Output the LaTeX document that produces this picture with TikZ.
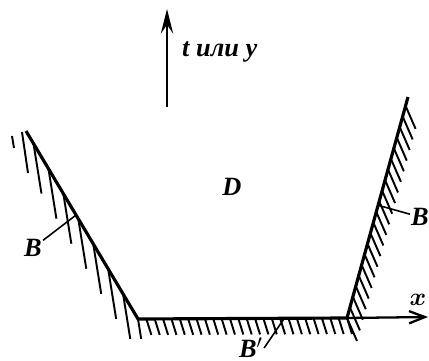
\documentclass[tikz,border=0pt]{standalone}
\usepackage{fontspec}
\setmainfont{Liberation Serif}
\usepackage{tikz}
\usetikzlibrary{arrows.meta, calc}
\usepackage{amsmath}

\begin{document}
\begin{tikzpicture}[
    x=0.02cm, y=-0.02cm,
    wall/.style={line width=1.8pt, line join=miter},
    hatch/.style={line width=1.1pt},
    yarr/.style={line width=1.3pt, -{Stealth[length=14pt, width=7pt, inset=5pt]}},
    xarr/.style={line width=1.3pt, -{Straight Barb[length=9pt, width=7pt]}},
    lbl/.style={font=\fontsize{15}{17}\selectfont\bfseries\itshape, inner sep=0.5pt},
    leader/.style={line width=0.9pt},
]
    \useasboundingbox (0,0) rectangle (429,361);
    \coordinate (ltop) at (26,131);
    \coordinate (lbot) at (138,319);
    \coordinate (rbot) at (347,318);
    \coordinate (rtop) at (408,97);
    \coordinate (xend) at (428,317);
    \coordinate (ybot) at (167,107);
    \coordinate (ytop) at (167,9);
    \coordinate (lmark) at ($(lbot)!0.553!(ltop)$);
    \coordinate (rmark) at ($(rbot)!0.51!(rtop)$);
    \coordinate (bmark) at ($(lbot)!0.70!(rbot)$);

    \begin{scope}
        \clip (0,0) rectangle (200,338);
        \foreach \i in {0,...,7}
            \draw[hatch] ($(lbot)!{\i*0.1333}!(ltop)$) -- ++(8,50);
    \end{scope}
    \draw[hatch] ($(ltop)+(-4,1)$) -- ++(6,41);
    \draw[hatch] ($(ltop)+(-14,5)$) -- ++(2,12);
    \foreach \i in {1,...,25}
        \draw[hatch] ($(lbot)!{\i/25}!(rbot)$) -- ++(5,16);
    \foreach \i in {0,...,20}
        \draw[hatch] ($(rbot)!{\i*0.048}!(rtop)$) -- ++(10,23);

    \draw[wall] (ltop) -- (lbot) -- (rbot) -- (rtop);
    \draw[xarr] (rbot) -- (xend);
    \draw[yarr] (ybot) -- (ytop);

    \node[lbl, anchor=west] (ylbl) at (181,52) {t или y};
    \node[lbl] (dom) at (232,187) {D};
    \node[lbl] (bleft) at (33,248) {B};
    \node[lbl] (bright) at (420,217) {B};
    \node[lbl] (bprime) at (251,348) {B$'$};
    \node[lbl] (xlbl) at (418,300) {$\boldsymbol{x}$};

    \draw[leader] (bleft) -- (lmark);
    \draw[leader] (bright) -- (rmark);
    \draw[leader] (bprime.east) -- (bmark);
\end{tikzpicture}
\end{document}
